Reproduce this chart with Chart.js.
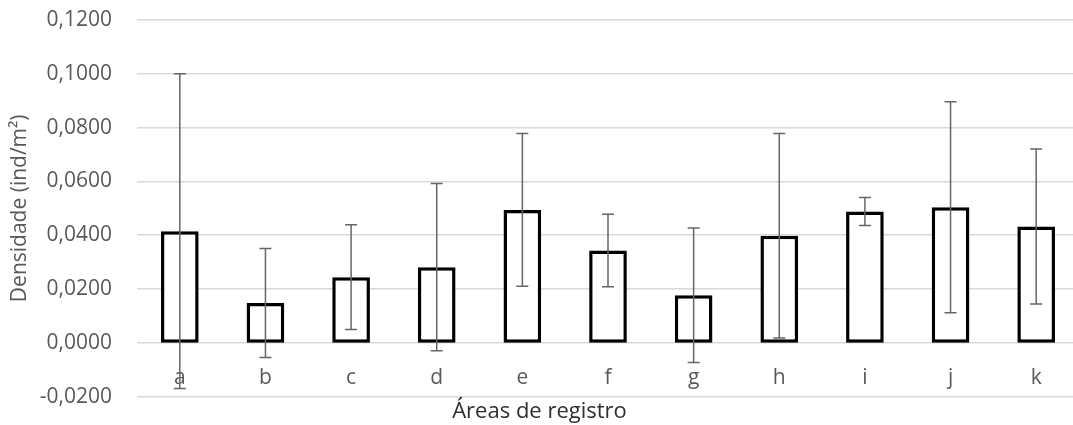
<!DOCTYPE html>
<html lang="pt">
<head>
  <meta charset="UTF-8">
  <title>Densidade por área de registro</title>
  <script src="https://cdn.jsdelivr.net/npm/chart.js"></script>
  <style>
    body {
      margin: 0;
      overflow: hidden;
      background: #ffffff;
    }
    .wrap {
      width: 1082px;
      height: 425px;
    }
  </style>
</head>
<body>
  <div class="wrap">
    <canvas id="chart"></canvas>
  </div>

  <script>
    // data
    const areas = ['a', 'b', 'c', 'd', 'e', 'f', 'g', 'h', 'i', 'j', 'k'];
    const densidade = [0.0415, 0.0148, 0.0244, 0.0281, 0.0494, 0.0343, 0.0177, 0.0398, 0.0488, 0.0504, 0.0432];
    const desvio = [0.0585, 0.0203, 0.0195, 0.0311, 0.0284, 0.0135, 0.0250, 0.0380, 0.0052, 0.0392, 0.0288];
    const yMin = -0.02;
    const yMax = 0.12;
    const yStep = 0.02;

    const fontName = "'Open Sans', 'Noto Sans', sans-serif";
    const gray = '#595959';

    // draws the +/- error bars on top of the bars
    const errorBars = {
      id: 'errorBars',
      afterDatasetsDraw(chart) {
        const ctx = chart.ctx;
        const meta = chart.getDatasetMeta(0);
        const y = chart.scales.y;
        ctx.save();
        ctx.strokeStyle = '#666666';
        ctx.lineWidth = 1.5;
        meta.data.forEach((bar, i) => {
          const top = y.getPixelForValue(densidade[i] + desvio[i]);
          const bottom = y.getPixelForValue(densidade[i] - desvio[i]);
          ctx.beginPath();
          ctx.moveTo(bar.x, top);
          ctx.lineTo(bar.x, bottom);
          ctx.moveTo(bar.x - 6, top);
          ctx.lineTo(bar.x + 6, top);
          ctx.moveTo(bar.x - 6, bottom);
          ctx.lineTo(bar.x + 6, bottom);
          ctx.stroke();
        });
        ctx.restore();
      }
    };

    const ctx = document.getElementById('chart').getContext('2d');
    new Chart(ctx, {
      type: 'bar',
      data: {
        labels: areas,
        datasets: [{
          data: densidade,
          backgroundColor: '#ffffff',
          borderColor: '#000000',
          borderWidth: 3.5,
          borderSkipped: false,
          barPercentage: 0.44,
          categoryPercentage: 1
        }]
      },
      options: {
        responsive: true,
        maintainAspectRatio: false,
        animation: false,
        layout: {
          padding: { top: 20, right: 3, bottom: 0, left: 0 }
        },
        plugins: {
          legend: { display: false },
          tooltip: { enabled: false },
          title: {
            display: true,
            position: 'bottom',
            text: 'Áreas de registro',
            color: '#303030',
            font: { family: fontName, size: 22, weight: 'normal' },
            padding: { top: 2, bottom: 0 }
          }
        },
        scales: {
          x: {
            position: { y: 0 },
            grid: { display: false, drawTicks: false },
            border: { display: false },
            ticks: {
              color: gray,
              padding: 23,
              font: { family: fontName, size: 21 }
            }
          },
          y: {
            min: yMin,
            max: yMax,
            afterFit: s => { s.width = 137; },
            grid: { color: '#d9d9d9', lineWidth: 1.5, drawTicks: true, tickLength: 23, tickColor: 'rgba(0,0,0,0)' },
            border: { display: false },
            ticks: {
              stepSize: yStep,
              color: gray,
              padding: 2,
              font: { family: fontName, size: 21 },
              callback: v => (Math.abs(v) < 1e-9 ? 0 : v).toFixed(4).replace('.', ',')
            },
            title: {
              display: true,
              text: 'Densidade (ind/m²)',
              color: gray,
              font: { family: fontName, size: 21 },
              padding: { top: 7, bottom: 0 }
            }
          }
        }
      },
      plugins: [errorBars]
    });
  </script>
</body>
</html>
